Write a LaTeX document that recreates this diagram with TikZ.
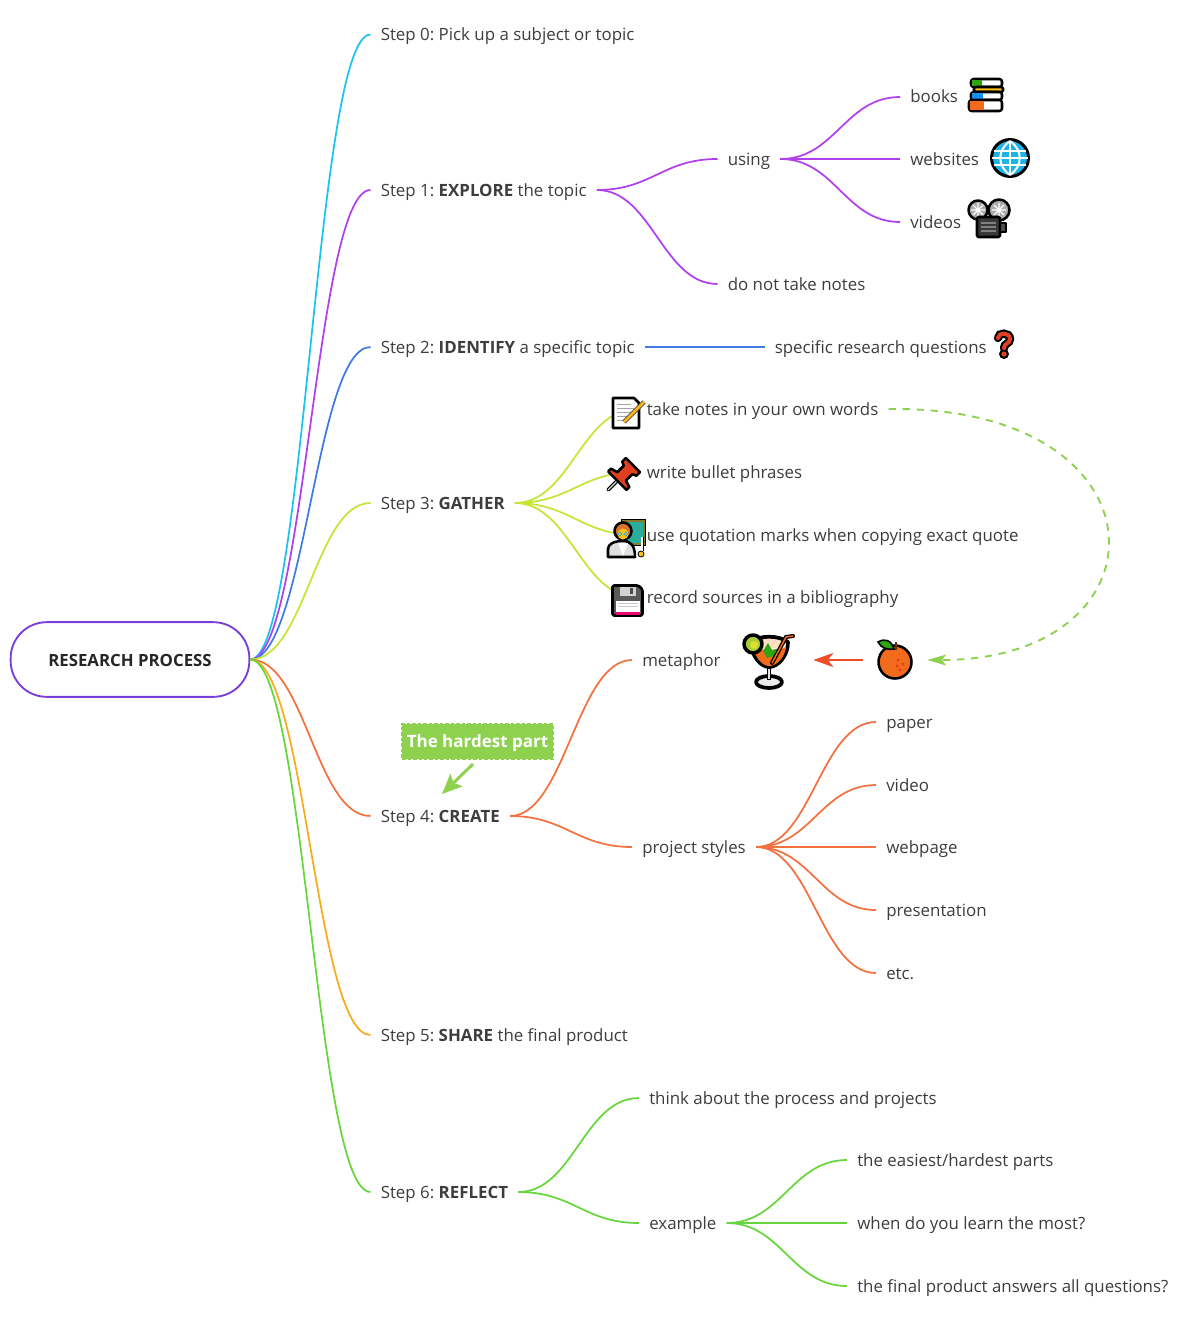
\documentclass[tikz,border=0pt]{standalone}
\usepackage{fontspec}
\setmainfont{Open Sans}
\usetikzlibrary{arrows.meta}

\definecolor{rootline}{HTML}{7B3FD9}
\definecolor{zerocol}{HTML}{1CC3EA}
\definecolor{onecol}{HTML}{B23FEE}
\definecolor{twocol}{HTML}{3F7BE0}
\definecolor{threecol}{HTML}{C4E534}
\definecolor{fourcol}{HTML}{F3703F}
\definecolor{fivecol}{HTML}{F6AC1C}
\definecolor{sixcol}{HTML}{66D63C}
\definecolor{notecol}{HTML}{8DD14F}
\definecolor{redarrow}{HTML}{EE4F2B}
\definecolor{textcol}{HTML}{3D3D3D}
\definecolor{iconorange}{HTML}{F26A1B}
\definecolor{iconred}{HTML}{E0401F}
\definecolor{iconblue}{HTML}{1EB4E8}
\definecolor{icongreen}{HTML}{2FA511}
\definecolor{iconyellow}{HTML}{FCC21B}
\definecolor{iconhair}{HTML}{D8752B}
\definecolor{iconframe}{HTML}{8A7A2A}
\definecolor{iconteal}{HTML}{2AAE9A}
\definecolor{iconlime}{HTML}{A4CF3A}

\tikzset{
    label/.style={anchor=west, inner xsep=7.5pt, inner ysep=0pt, text height=11pt, text depth=2pt, text=textcol, font=\fontsize{12.66}{15}\selectfont},
    iconbox/.style={inner sep=0pt, minimum height=20pt},
    branch/.style={line width=1.3pt, to path={(\tikztostart) .. controls +(55,0) and +(-55,0) .. (\tikztotarget)}},
    iconline/.style={draw=black, line width=1.9pt, line join=round},
    booksicon/.pic={
        \draw[iconline, fill=white, rounded corners=2pt] (-15,-16) rectangle (16,-8);
        \fill[icongreen] (-14,-15) rectangle (-4,-9);
        \draw[iconline, fill=iconyellow, rounded corners=1pt] (-12,-8) rectangle (17,-3);
        \draw[iconline, fill=white, rounded corners=2pt] (-15,-3) rectangle (16,5);
        \fill[iconblue!80!blue] (-14,-2) rectangle (-3,4);
        \draw[iconline, fill=white, rounded corners=2pt] (-17,5) rectangle (16,16);
        \fill[iconorange] (-16,6) rectangle (-2,15);
    },
    globeicon/.pic={
        \draw[iconline, line width=2.2pt, fill=iconblue] (0,0) circle[radius=18.5];
        \draw[white, line width=1.5pt] (-16,-7) -- (16,-7) (-18,0) -- (18,0) (-16,7) -- (16,7) (0,-17) -- (0,17);
        \draw[white, line width=1.5pt] (0,-17) .. controls (-13,-8) and (-13,8) .. (0,17) (0,-17) .. controls (13,-8) and (13,8) .. (0,17);
    },
    cameraicon/.pic={
        \draw[iconline, fill=gray!65] (-11,-11) circle[radius=9.5];
        \draw[iconline, fill=gray!65] (10,-11) circle[radius=10.5];
        \draw[white, line width=1pt] (-18,-11) -- (-4,-11) (-11,-18) -- (-11,-4) (-16,-16) -- (-6,-6) (-16,-6) -- (-6,-16);
        \draw[white, line width=1pt] (3,-11) -- (17,-11) (10,-18) -- (10,-4) (5,-16) -- (15,-6) (5,-6) -- (15,-16);
        \draw[iconline, fill=black!78, rounded corners=1pt] (-12,-4) rectangle (11,16);
        \draw[gray, line width=0.8pt] (-8,2) -- (7,2) (-8,6) -- (7,6) (-8,10) -- (7,10);
        \draw[iconline, fill=black!70] (11,2) rectangle (17,11);
    },
    questionicon/.pic={
        \draw[black, line width=6.2pt, line cap=round] (-6,-6) .. controls (-6,-12) and (6,-12) .. (6,-5) .. controls (6,0) and (0,-1) .. (0,4);
        \fill[black] (0,10) circle[radius=5];
        \draw[iconred, line width=3pt, line cap=round] (-6,-6) .. controls (-6,-12) and (6,-12) .. (6,-5) .. controls (6,0) and (0,-1) .. (0,4);
        \fill[iconred] (0,10) circle[radius=2.6];
    },
    noteicon/.pic={
        \draw[iconline, fill=white] (-13,-15) -- (8,-15) -- (13,-10) -- (13,15) -- (-13,15) -- cycle;
        \draw[gray!70, line width=0.6pt] (-9,-9) -- (5,-9) (-9,-5) -- (8,-5) (-9,-1) -- (8,-1) (-9,3) -- (4,3) (-9,7) -- (0,7);
        \draw[black!70, line width=3.4pt] (-2,9) -- (18,-11);
        \draw[iconyellow!80!orange, line width=2pt] (-2,9) -- (18,-11);
    },
    pinicon/.pic={
        \begin{scope}[rotate=45]
            \draw[black, line width=2.8pt, line cap=round] (-21,0) -- (-7,0);
            \draw[gray!30, line width=1pt, line cap=round] (-21,0) -- (-7,0);
            \draw[iconline, fill=iconred] (-8,-13) -- (-4,-13) -- (-2,-6) -- (7,-6) -- (9,-10) -- (14,-10) -- (14,10) -- (9,10) -- (7,6) -- (-2,6) -- (-4,13) -- (-8,13) -- cycle;
        \end{scope}
    },
    teachericon/.pic={
        \draw[iconframe, line width=2pt, fill=iconteal] (-3,-17) rectangle (18,6);
        \draw[black, line width=0.8pt] (-4.5,-18.5) rectangle (19.5,7.5);
        \draw[iconline, fill=gray!25] (-18,19) -- (-18,11) .. controls (-18,6) and (-12,3) .. (-3,3) .. controls (5,3) and (9,8) .. (9,19) -- cycle;
        \fill[white] (-8,5) -- (2,5) -- (-3,18) -- cycle;
        \draw[iconline, fill=iconhair] (-3,-7) circle[radius=8.5];
        \fill[iconyellow] (-3,-4) circle[radius=5.5];
        \draw[iconblue, line width=0.5pt] (-6,-4) circle[radius=1.8] (0,-4) circle[radius=1.8];
        \draw[white, line width=1pt] (16,-1) -- (16,13);
        \draw[black, line width=0.4pt] (17,-1) -- (17,13);
        \fill[iconyellow, draw=black, line width=0.6pt] (15,16) circle[radius=3];
    },
    floppyicon/.pic={
        \draw[iconline, fill=black!65, rounded corners=1pt] (-15,-15) -- (11,-15) -- (15,-11) -- (15,15) -- (-15,15) -- cycle;
        \fill[gray!35] (-8,-14) rectangle (8,-5);
        \fill[black!70] (2,-13) rectangle (5,-7);
        \fill[white] (-12,0) rectangle (12,14);
        \fill[magenta!75!red] (-12,11) rectangle (12,14);
        \draw[gray!40, line width=0.4pt] (-10,3) -- (10,3) (-10,6) -- (10,6);
    },
    drinkicon/.pic={
        \draw[iconline, line width=2.8pt, fill=gray!15] (0,22) ellipse[x radius=13, y radius=6];
        \draw[black, line width=3.6pt] (0,5) -- (0,20);
        \draw[gray!20, line width=1.4pt] (0,6) -- (0,19);
        \draw[iconline, line width=2.8pt, fill=orange!25!white] (-18,-18) .. controls (-18,-4) and (-8,7) .. (0,7) .. controls (9,7) and (19,-4) .. (19,-18) .. controls (10,-25) and (-10,-25) .. cycle;
        \fill[iconorange] (-16,-13) .. controls (-14,-3) and (-7,6) .. (0,6) .. controls (8,6) and (16,-3) .. (17,-13) .. controls (8,-9) and (-8,-9) .. cycle;
        \draw[white, line width=1pt] (-15,-14) .. controls (-6,-10) and (8,-10) .. (16,-14);
        \fill[icongreen] (-6,-9) -- (-1,-17) -- (3,-10) -- (11,-12) -- (8,-5) -- (-2,-2) -- cycle;
        \draw[iconline, line width=2.6pt, fill=iconlime] (-16,-16) circle[radius=9];
        \fill[yellow!60!iconlime] (-15,-15) circle[radius=4];
        \draw[black, line width=3pt, line cap=round] (3,3) -- (17,-23) -- (24,-24);
        \draw[iconorange, line width=1.1pt, line cap=round] (3,3) -- (17,-23) -- (24,-24);
    },
    orangeicon/.pic={
        \draw[iconline, fill=iconorange] (0,2) circle[radius=16.5];
        \fill[iconred] (3,0) circle[radius=1.7] (8,4) circle[radius=1.7] (2,6) circle[radius=1.7] (5,10) circle[radius=1.7];
        \draw[black, fill=icongreen, line width=1.2pt] (-17,-18) .. controls (-10,-22) and (-4,-20) .. (-1,-11) .. controls (-8,-10) and (-14,-12) .. cycle;
        \draw[black!60!orange, line width=1.5pt] (1,-18) -- (1,-10);
    },
}

\begin{document}
\frenchspacing
\begin{tikzpicture}[x=0.75pt, y=-0.75pt]
    \useasboundingbox (0,0) rectangle (1183,1320);

    % ROOT
    \node[draw=rootline, line width=1.4pt, rounded corners=27pt, minimum width=179pt, minimum height=56pt, inner sep=0pt, text height=10.3pt, text depth=0pt, text=black!85, font=\fontsize{12.6}{15}\selectfont\bfseries] (root) at (130,659.5) {RESEARCH PROCESS};

    % STEPS
    \node[label] (stepzero) at (370.5,34.5) {Step 0: Pick up a subject or topic};
    \node[label] (stepone) at (370.5,190) {Step 1: \textbf{EXPLORE} the topic};
    \node[label] (steptwo) at (370.5,347) {Step 2: \textbf{IDENTIFY} a specific topic};
    \node[label] (stepthree) at (370.5,503) {Step 3: \textbf{GATHER}};
    \node[label] (stepfour) at (370.5,816) {Step 4: \textbf{CREATE}};
    \node[label] (stepfive) at (370.5,1035) {Step 5: \textbf{SHARE} the final product};
    \node[label] (stepsix) at (370.5,1192) {Step 6: \textbf{REFLECT}};

    \node[label] (using) at (717.5,159) {using};
    \node[label] (nonotes) at (717.5,284) {do not take notes};
    \node[label] (books) at (900,97) {books};
    \node[label] (websites) at (900,159) {websites};
    \node[label] (videos) at (900,222) {videos};

    \node[label] (questions) at (764.5,347) {specific research questions};

    \node[label] (ownwords) at (636.5,409) {take notes in your own words};
    \node[label] (bullets) at (636.5,472) {write bullet phrases};
    \node[label] (quotes) at (636.5,535) {use quotation marks when copying exact quote};
    \node[label] (sources) at (636.5,597) {record sources in a bibliography};

    \node[label] (metaphor) at (632,660) {metaphor};
    \node[label] (styles) at (632,847) {project styles};
    \node[label] (paper) at (876,722) {paper};
    \node[label] (video) at (876,785) {video};
    \node[label] (webpage) at (876,847) {webpage};
    \node[label] (presentation) at (876,910) {presentation};
    \node[label] (etc) at (876,973) {etc.};

    \node[label] (process) at (639,1098) {think about the process and projects};
    \node[label] (example) at (639,1223) {example};
    \node[label] (easiest) at (847,1160) {the easiest/hardest parts};
    \node[label] (learn) at (847,1223) {when do you learn the most?};
    \node[label] (answers) at (847,1286) {the final product answers all questions?};

    % NOTE AND ICON BOXES
    \node[iconbox, minimum width=48pt] (orange) at (895,660) {};
    \node[iconbox, minimum width=66pt] (drink) at (769,660) {};
    \node[fill=notecol, draw=notecol, line width=1.8pt, dash pattern=on 2.6pt off 1.5pt, inner xsep=3.5pt, inner ysep=6.5pt, text height=11pt, text depth=2pt, text=white, font=\fontsize{12.75}{15}\selectfont\bfseries] (hardest) at (477.5,741.5) {The hardest part};
    \coordinate (hardtail) at (473,764);
    \coordinate (hardtip) at (442,794);

    % BRANCHES
    \draw[branch, zerocol] (root.east) to (stepzero.west);
    \draw[branch, onecol] (root.east) to (stepone.west);
    \draw[branch, twocol] (root.east) to (steptwo.west);
    \draw[branch, threecol] (root.east) to (stepthree.west);
    \draw[branch, fourcol] (root.east) to (stepfour.west);
    \draw[branch, fivecol] (root.east) to (stepfive.west);
    \draw[branch, sixcol] (root.east) to (stepsix.west);

    \draw[branch, onecol] (stepone.east) to (using.west);
    \draw[branch, onecol] (stepone.east) to (nonotes.west);
    \draw[branch, onecol] (using.east) to (books.west);
    \draw[branch, onecol] (using.east) to (websites.west);
    \draw[branch, onecol] (using.east) to (videos.west);

    \draw[branch, twocol] (steptwo.east) to (questions.west);

    \draw[branch, threecol] (stepthree.east) to (ownwords.west);
    \draw[branch, threecol] (stepthree.east) to (bullets.west);
    \draw[branch, threecol] (stepthree.east) to (quotes.west);
    \draw[branch, threecol] (stepthree.east) to (sources.west);

    \draw[branch, fourcol] (stepfour.east) to (metaphor.west);
    \draw[branch, fourcol] (stepfour.east) to (styles.west);
    \draw[branch, fourcol] (styles.east) to (paper.west);
    \draw[branch, fourcol] (styles.east) to (video.west);
    \draw[branch, fourcol] (styles.east) to (webpage.west);
    \draw[branch, fourcol] (styles.east) to (presentation.west);
    \draw[branch, fourcol] (styles.east) to (etc.west);

    \draw[branch, sixcol] (stepsix.east) to (process.west);
    \draw[branch, sixcol] (stepsix.east) to (example.west);
    \draw[branch, sixcol] (example.east) to (easiest.west);
    \draw[branch, sixcol] (example.east) to (learn.west);
    \draw[branch, sixcol] (example.east) to (answers.west);

    % RELATIONS
    \draw[notecol, line width=1.4pt, dash pattern=on 5.5pt off 5pt, -{Stealth[length=14pt, width=8pt, inset=3pt]}] (ownwords.east) .. controls (1173,405) and (1173,660) .. (orange.east);
    \draw[redarrow, line width=1.9pt, -{Stealth[length=15pt, width=10.5pt, inset=4pt]}] (orange.west) -- (drink.east);
    \draw[notecol, line width=2.2pt, -{Stealth[length=15pt, width=13pt, inset=3pt]}] (hardtail) -- (hardtip);

    % ICONS
    \pic at (986,95) {booksicon};
    \pic at (1010,158) {globeicon};
    \pic at (989,221) {cameraicon};
    \pic at (1004,344) {questionicon};
    \pic at (626,413) {noteicon};
    \pic at (623,475) {pinicon};
    \pic at (626,538) {teachericon};
    \pic at (627.5,600.5) {floppyicon};
    \pic at (drink) {drinkicon};
    \pic at (orange) {orangeicon};
\end{tikzpicture}
\end{document}
